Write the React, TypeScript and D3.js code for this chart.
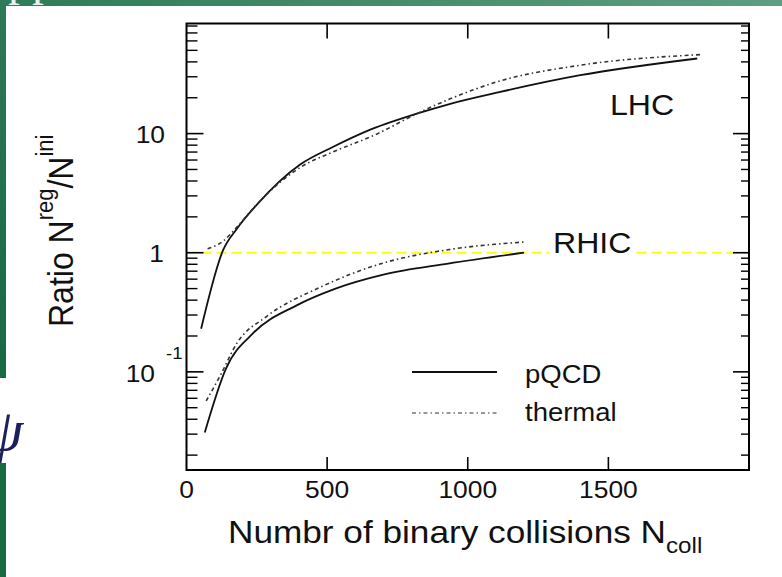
import React from "react";
import * as d3 from "d3";

// N_coll sampling and ratio N^reg / N^ini for each scenario
const lhcPqcdN = [52, 130, 180, 248, 404, 522, 641, 819, 938, 1116, 1400, 1816];
const lhcPqcdRatio = [0.23, 1.05, 1.6, 2.5, 5.5, 7.76, 10.5, 14.7, 17.8, 22.4, 30.9, 42.7];

const lhcThermalN = [75, 130, 180, 250, 410, 520, 680, 806, 940, 1104, 1400, 1827];
const lhcThermalRatio = [1.08, 1.25, 1.65, 2.55, 5.3, 7.0, 10.0, 14.2, 19.7, 27.2, 37.5, 46];

const rhicPqcdN = [65, 140, 236, 390, 530, 700, 930, 1200];
const rhicPqcdRatio = [0.031, 0.106, 0.21, 0.36, 0.5, 0.655, 0.81, 1.0];

const rhicThermalN = [70, 120, 180, 283, 473, 700, 930, 1200];
const rhicThermalRatio = [0.057, 0.093, 0.175, 0.29, 0.51, 0.82, 1.06, 1.23];

const xTickValues = [0, 500, 1000, 1500];
const yMajorTicks = [0.1, 1, 10];
const referenceLevel = 1;

const W = 782;
const H = 577;
const FONT = "'Liberation Sans', Arial, Helvetica, sans-serif";

export default function App() {
  const left = 186.5, right = 749, top = 23.5, bottom = 470;
  const x = d3.scaleLinear().domain([0, 2000]).range([left, right]);
  const y = d3.scaleLog().domain([0.015, 84]).range([bottom, top]);

  const line = d3
    .line<[number, number]>()
    .x((d) => x(d[0]))
    .y((d) => y(d[1]))
    .curve(d3.curveMonotoneX);

  const zip = (a: number[], b: number[]) => a.map((v, i) => [v, b[i]] as [number, number]);

  const minorTicks: number[] = [];
  [0.01, 0.1, 1, 10].forEach((dec) => {
    for (let k = 2; k <= 9; k++) {
      const v = dec * k;
      if (v > 0.015 && v < 84) minorTicks.push(v);
    }
  });

  const solid = { stroke: "#111", strokeWidth: 1.8, fill: "none" };
  const dashDot = { stroke: "#333", strokeWidth: 1.6, fill: "none", strokeDasharray: "4,3,1.5,3" };

  return (
    <svg
      width={W}
      height={H}
      style={{ position: "absolute", left: 0, top: 0, display: "block" }}
      fontFamily={FONT}
    >
      <defs>
        <linearGradient id="topBar" x1="0" x2="1" y1="0" y2="0">
          <stop offset="0" stopColor="#2e7b57" />
          <stop offset="1" stopColor="#5e9e82" />
        </linearGradient>
        <linearGradient id="sideBar" x1="0" x2="0" y1="0" y2="1">
          <stop offset="0" stopColor="#2c7a56" />
          <stop offset="1" stopColor="#186a43" />
        </linearGradient>
      </defs>
      <rect x={0} y={0} width={W} height={H} fill="#fff" />

      {/* slide frame */}
      <rect x={0} y={0} width={W} height={6} fill="url(#topBar)" />
      <rect x={0} y={0} width={6} height={378} fill="url(#sideBar)" />
      <rect x={0} y={463} width={6} height={H - 463} fill="#186a43" />
      <text x={8} y={-5} fontFamily="'Liberation Serif', serif" fontSize={48} fill="#e8f0ea">pp</text>
      <text x={-14} y={450} fontFamily="'Liberation Serif', serif" fontStyle="italic" fontSize={60} fill="#1b1f5e">ψ</text>

      {/* reference level */}
      <line
        x1={left}
        x2={right}
        y1={y(referenceLevel)}
        y2={y(referenceLevel)}
        stroke="#ffff00"
        strokeWidth={2}
        strokeDasharray="10,5"
      />

      {/* curves */}
      <path d={line(zip(lhcPqcdN, lhcPqcdRatio)) || ""} {...solid} />
      <path d={line(zip(lhcThermalN, lhcThermalRatio)) || ""} {...dashDot} />
      <path d={line(zip(rhicPqcdN, rhicPqcdRatio)) || ""} {...solid} />
      <path d={line(zip(rhicThermalN, rhicThermalRatio)) || ""} {...dashDot} />

      {/* frame */}
      <rect x={left} y={top} width={right - left} height={bottom - top} fill="none" stroke="#000" strokeWidth={2} />

      {/* x ticks */}
      {xTickValues.filter((v) => v > 0).map((v) => (
        <g key={`xt${v}`}>
          <line x1={x(v)} x2={x(v)} y1={top} y2={top + 15} stroke="#000" strokeWidth={1.6} />
          <line x1={x(v)} x2={x(v)} y1={bottom} y2={bottom - 13} stroke="#000" strokeWidth={1.6} />
        </g>
      ))}
      {xTickValues.map((v) => (
        <text
          key={`xl${v}`}
          transform={`translate(${x(v)},498) scale(1.1,1)`}
          textAnchor="middle"
          fontSize={24}
          fill="#111"
        >
          {v}
        </text>
      ))}

      {/* y ticks */}
      {yMajorTicks.map((v) => (
        <g key={`ym${v}`}>
          <line x1={left} x2={left + 17} y1={y(v)} y2={y(v)} stroke="#000" strokeWidth={1.6} />
          <line x1={right} x2={right - 16} y1={y(v)} y2={y(v)} stroke="#000" strokeWidth={1.6} />
        </g>
      ))}
      {minorTicks.map((v) => (
        <g key={`yn${v}`}>
          <line x1={left} x2={left + 11} y1={y(v)} y2={y(v)} stroke="#000" strokeWidth={1.4} />
          <line x1={right} x2={right - 8} y1={y(v)} y2={y(v)} stroke="#000" strokeWidth={1.4} />
        </g>
      ))}
      <text transform={`translate(165,${y(10) + 9}) scale(1.1,1)`} textAnchor="end" fontSize={24} fill="#111">10</text>
      <text transform={`translate(164,${y(1) + 9}) scale(1.1,1)`} textAnchor="end" fontSize={24} fill="#111">1</text>
      <text transform={`translate(155,${y(0.1) + 10}) scale(1.1,1)`} textAnchor="end" fontSize={24} fill="#111">10</text>
      <text transform={`translate(166,${y(0.1) - 13}) scale(1.1,1)`} textAnchor="start" fontSize={17} fill="#111">-1</text>

      {/* axis titles */}
      <text transform="translate(228,543) scale(1.1,1)" fontSize={32} fill="#111">
        Numbr of binary collisions N
        <tspan fontSize={22} dy={10}>coll</tspan>
      </text>
      <text transform="translate(73,327) rotate(-90) scale(1,1.1)" fontSize={32} fill="#111">
        Ratio N
        <tspan fontSize={22} dy={-18}>reg</tspan>
        <tspan dy={18}>/N</tspan>
        <tspan fontSize={22} dy={-18}>ini</tspan>
      </text>

      {/* curve labels */}
      <text transform="translate(610,115) scale(1.07,1)" fontSize={30} fill="#111">LHC</text>
      <rect x={549} y={228} width={86} height={28} fill="#fff" />
      <text transform="translate(553,253) scale(1.07,1)" fontSize={30} fill="#111">RHIC</text>

      {/* legend */}
      <line x1={412} x2={497} y1={372} y2={372} stroke="#111" strokeWidth={1.8} />
      <line x1={412} x2={497} y1={413} y2={413} stroke="#777" strokeWidth={1.5} strokeDasharray="4,3,1.5,3" />
      <text transform="translate(525,383) scale(1.1,1)" fontSize={25} fill="#111">pQCD</text>
      <text transform="translate(525,421) scale(1.1,1)" fontSize={25} fill="#111">thermal</text>
    </svg>
  );
}
